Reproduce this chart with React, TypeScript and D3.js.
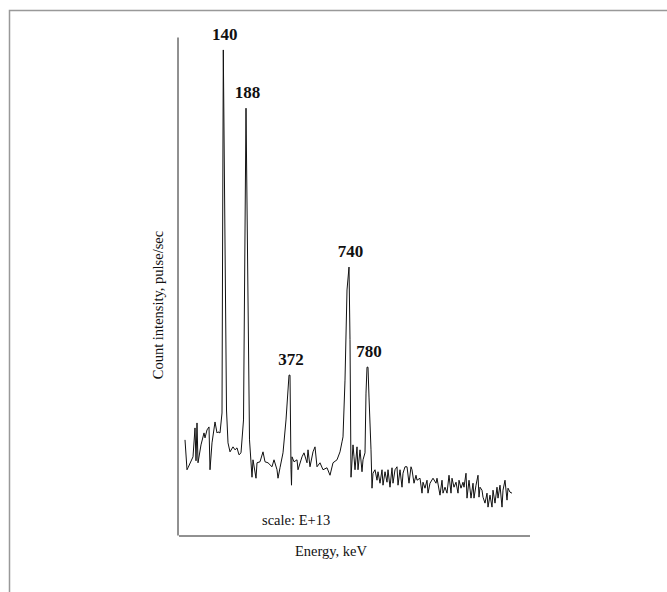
import { useEffect, useRef } from "react";
import * as d3 from "d3";

// gamma spectrum: [channel, count intensity]
const spectrum: [number, number][] = [
  [7, 19.1], [9, 13.1], [10, 13.5], [15, 15.7], [17, 21.5], [18, 14.9], [19, 22.5], [20, 14.5], [23, 18.1],
  [26, 20.5], [27, 19.5], [29, 21.1], [31, 21.7], [32, 13.1], [34, 18.5], [37, 22.7],
  [39, 20.5], [40, 20.7], [42, 20.5], [44, 24.5], [45.3, 97.4], [48.5, 25.1], [50, 18.5],
  [52, 16.7], [55, 17.7], [57, 17.1], [59, 17.5], [61, 16.1], [63, 16.5], [65.5, 23.1],
  [68, 85.7], [71.5, 19.1], [74, 11.6], [75, 15.1], [78, 11.4], [79, 14.5], [82, 14.7],
  [85, 16.7], [87, 14.7], [90, 14.5], [94, 13.7], [96, 15.1], [99, 13.1], [100, 11.4],
  [102, 13.5], [105, 16.5], [108, 23.1], [111, 32.1], [112, 32.1], [113, 13.1], [113.5, 10.0],
  [114, 15.7], [116, 14.7], [119, 15.1], [120, 13.1], [124, 15.7], [126, 16.5], [129, 14.5],
  [130, 17.1], [132, 13.7], [135, 16.7], [137, 17.7], [139, 13.7], [142, 14.5], [145, 13.1],
  [149, 13.5], [152, 12.0], [155, 14.5], [159, 15.1], [162, 16.7], [164, 18.7], [165, 19.7],
  [167, 31.1], [169, 49.2], [171, 53.8], [172, 39.2], [173, 11.6], [175, 18.1], [176, 15.7],
  [177, 13.1], [179, 17.7], [180, 13.1], [182, 17.1], [184, 12.7], [185, 15.1], [187, 16.5],
  [188, 28.5], [189, 33.7], [190, 33.7], [191, 27.7], [193, 17.1], [194, 9.4], [195, 12.4],
  [197, 13.1], [199, 11.0], [200, 12.7], [202, 10.4], [204, 13.1], [205, 10.0], [207, 12.7],
  [209, 10.6], [210, 13.1], [212, 9.6], [214, 13.5], [215, 10.4], [217, 13.1], [219, 13.7],
  [220, 10.0], [222, 13.1], [224, 9.6], [225, 12.4], [227, 13.7], [229, 13.7], [231, 10.4],
  [233, 13.7], [234, 13.1], [236, 10.4], [238, 12.0], [239, 11.0], [242, 11.4], [244, 8.4],
  [245, 10.6], [247, 9.4], [249, 11.0], [250, 8.4], [252, 10.4], [255, 11.4], [258, 10.4],
  [259, 11.4], [262, 8.0], [264, 11.0], [265, 8.4], [267, 9.6], [269, 8.4], [271, 12.0],
  [273, 8.4], [274, 11.4], [276, 9.6], [278, 10.6], [280, 8.4], [281, 11.0], [283, 9.4],
  [285, 10.6], [286, 9.6], [288, 12.4], [289, 7.4], [291, 11.0], [293, 7.4], [295, 10.4],
  [296, 7.4], [298, 10.0], [300, 12.0], [301, 7.6], [302, 9.6], [304, 9.0], [305, 7.6],
  [307, 6.4], [309, 8.4], [310, 5.6], [312, 8.0], [314, 5.6], [315, 9.0], [317, 6.4],
  [319, 9.6], [320, 7.4], [322, 10.0], [324, 5.6], [325, 9.0], [327, 11.0], [329, 7.0],
  [330, 9.4], [332, 8.6], [334, 8.4],
];

// labelled peaks (keV)
const peakLabels = ["140", "188", "372", "740", "780"];
const peakChannels = [45.3, 68, 111.5, 171, 189.5];
const peakCounts = [97.4, 85.7, 32.1, 53.8, 33.7];

export default function App() {
  const ref = useRef<SVGSVGElement>(null);

  useEffect(() => {
    const svg = d3.select(ref.current);
    svg.selectAll("*").remove();

    const x = d3.scaleLinear().domain([0, 351]).range([178, 529]);
    const y = d3.scaleLinear().domain([0, 100]).range([535, 37]);
    const font = "'Liberation Serif', serif";

    // outer frame
    svg
      .append("rect")
      .attr("x", 9.5)
      .attr("y", 10.5)
      .attr("width", 700)
      .attr("height", 620)
      .attr("fill", "none")
      .attr("stroke", "#999")
      .attr("stroke-width", 1.5);

    // axes without ticks
    const gx = svg
      .append("g")
      .attr("transform", `translate(0.5, ${y(0) + 0.5})`)
      .call(d3.axisBottom(x).tickValues([]).tickSizeOuter(0));
    const gy = svg
      .append("g")
      .attr("transform", `translate(${x(0) - 0.5}, 0)`)
      .call(d3.axisLeft(y).tickValues([]).tickSizeOuter(0));
    [gx, gy].forEach((g) => g.select(".domain").attr("stroke", "#222"));

    const line = d3
      .line<[number, number]>()
      .x((d) => x(d[0]))
      .y((d) => y(d[1]));

    svg
      .append("path")
      .datum(spectrum)
      .attr("d", line)
      .attr("fill", "none")
      .attr("stroke", "#111")
      .attr("stroke-width", 1)
      .attr("stroke-linejoin", "miter");

    // peak labels
    svg
      .selectAll("text.peak")
      .data(peakLabels)
      .enter()
      .append("text")
      .attr("class", "peak")
      .attr("x", (_, i) => x(peakChannels[i]) + 1.5)
      .attr("y", (_, i) => y(peakCounts[i]) - 10)
      .attr("text-anchor", "middle")
      .attr("font-family", font)
      .attr("font-weight", "bold")
      .attr("font-size", 17)
      .attr("fill", "#111")
      .text((d) => d);

    svg
      .append("text")
      .attr("x", 262)
      .attr("y", 525)
      .attr("font-family", font)
      .attr("font-size", 14.5)
      .attr("fill", "#111")
      .text("scale: E+13");

    svg
      .append("text")
      .attr("x", 331)
      .attr("y", 556)
      .attr("text-anchor", "middle")
      .attr("font-family", font)
      .attr("font-size", 14.5)
      .attr("fill", "#111")
      .text("Energy, keV");

    svg
      .append("text")
      .attr("transform", "translate(163, 305) rotate(-90)")
      .attr("text-anchor", "middle")
      .attr("font-family", font)
      .attr("font-size", 14.5)
      .attr("fill", "#111")
      .text("Count intensity, pulse/sec");
  }, []);

  return (
    <svg
      ref={ref}
      width={667}
      height={592}
      style={{ position: "fixed", left: 0, top: 0, background: "#fff" }}
    ></svg>
  );
}
